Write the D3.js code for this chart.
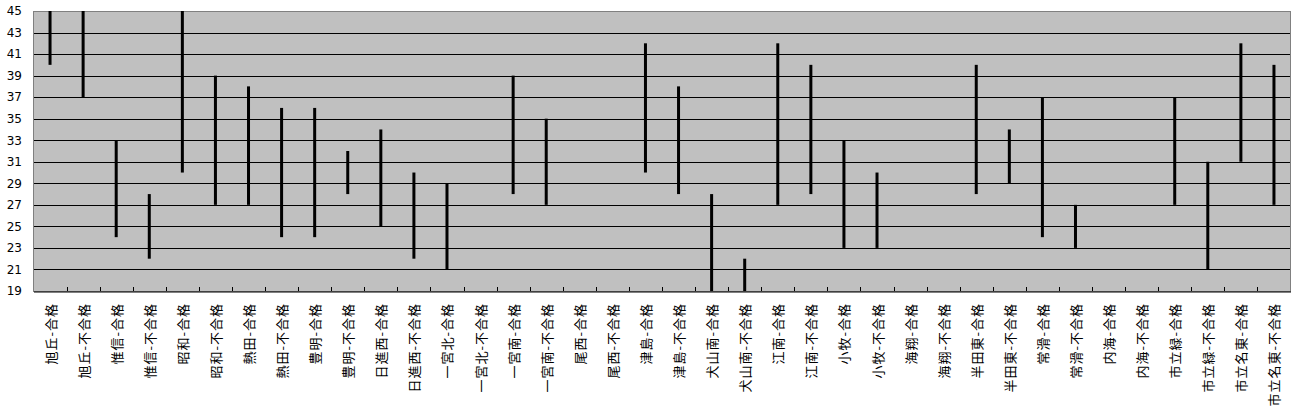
<!DOCTYPE html>
<html><head><meta charset="utf-8">
<script src="https://cdn.jsdelivr.net/npm/d3@7"></script>
<style>body{margin:0;background:#fff}svg{display:block}</style>
</head><body>
<svg id="c" width="1297" height="413"></svg>
<script>
const categories = ["旭丘-合格","旭丘-不合格","惟信-合格","惟信-不合格","昭和-合格","昭和-不合格","熱田-合格","熱田-不合格","豊明-合格","豊明-不合格","日進西-合格","日進西-不合格","一宮北-合格","一宮北-不合格","一宮南-合格","一宮南-不合格","尾西-合格","尾西-不合格","津島-合格","津島-不合格","犬山南-合格","犬山南-不合格","江南-合格","江南-不合格","小牧-合格","小牧-不合格","海翔-合格","海翔-不合格","半田東-合格","半田東-不合格","常滑-合格","常滑-不合格","内海-合格","内海-不合格","市立緑-合格","市立緑-不合格","市立名東-合格","市立名東-不合格"];
const highValues = [45,45,33,28,45,39,38,36,36,32,34,30,29,null,39,35,null,null,42,38,28,22,42,40,33,30,null,null,40,34,37,27,null,null,37,31,42,40];
const lowValues  = [40,37,24,22,30,27,27,24,24,28,25,22,21,null,28,27,null,null,30,28,19,19,27,28,23,23,null,null,28,29,24,23,null,null,27,21,31,27];
const yTicks = [19,21,23,25,27,29,31,33,35,37,39,41,43,45];

const svg = d3.select("#c");
const m = {left:33.5, right:1290.5, top:11, bottom:291};
const x = d3.scaleBand().domain(categories).range([m.left, m.right]).padding(0);
const y = d3.scaleLinear().domain([19,45]).range([m.bottom, m.top]);

svg.append("rect").attr("x", m.left).attr("y", m.top)
  .attr("width", m.right-m.left).attr("height", m.bottom-m.top)
  .attr("fill", "#c0c0c0");

// grid
svg.append("g").selectAll("line").data(yTicks.filter(t=>t>19 && t<45)).join("line")
  .attr("x1", m.left).attr("x2", m.right)
  .attr("y1", d=>Math.round(y(d))+0.5).attr("y2", d=>Math.round(y(d))+0.5)
  .attr("stroke", "#000").attr("stroke-width", 1);

// border
svg.append("rect").attr("x", m.left).attr("y", m.top+0.5)
  .attr("width", m.right-m.left).attr("height", m.bottom-m.top)
  .attr("fill", "none").attr("stroke", "#808080").attr("stroke-width", 1);

// bars
const data = categories.map((c,i)=>({c, hi:highValues[i], lo:lowValues[i]})).filter(d=>d.hi!=null);
svg.append("g").selectAll("rect").data(data).join("rect")
  .attr("x", d=>x(d.c)+x.bandwidth()/2-1.5)
  .attr("width", 3)
  .attr("y", d=>y(d.hi))
  .attr("height", d=>y(d.lo)-y(d.hi))
  .attr("fill", "#000");

// x axis
const xAxis = d3.axisBottom(x).tickSize(0).tickFormat("");
const gx = svg.append("g").attr("transform", `translate(0,${m.bottom+0.5})`).call(xAxis);
gx.select(".domain").attr("stroke", "#000");
gx.selectAll(".tick").remove();
// boundary ticks (inside)
svg.append("g").selectAll("line").data(categories.slice(1)).join("line")
  .attr("x1", d=>Math.round(x(d))+0.5).attr("x2", d=>Math.round(x(d))+0.5)
  .attr("y1", m.bottom-4).attr("y2", m.bottom)
  .attr("stroke", "#000");

// x labels
svg.append("g").selectAll("text").data(categories).join("text")
  .attr("transform", d=>`translate(${x(d)+x.bandwidth()/2},303) rotate(-90)`)
  .attr("text-anchor", "end").attr("dominant-baseline", "central")
  .attr("font-family", "'Noto Sans CJK JP', sans-serif").attr("font-size", 13)
  .attr("letter-spacing", "1px")
  .text(d=>d);

// y labels
const yAxis = d3.axisLeft(y).tickValues(yTicks).tickSize(0).tickPadding(0);
const gy = svg.append("g").attr("transform", "translate(22,0)").call(yAxis);
gy.select(".domain").remove();
gy.selectAll("text").attr("font-family", "'DejaVu Sans', sans-serif").attr("font-size", 12).attr("fill", "#000");
</script>
</body></html>
